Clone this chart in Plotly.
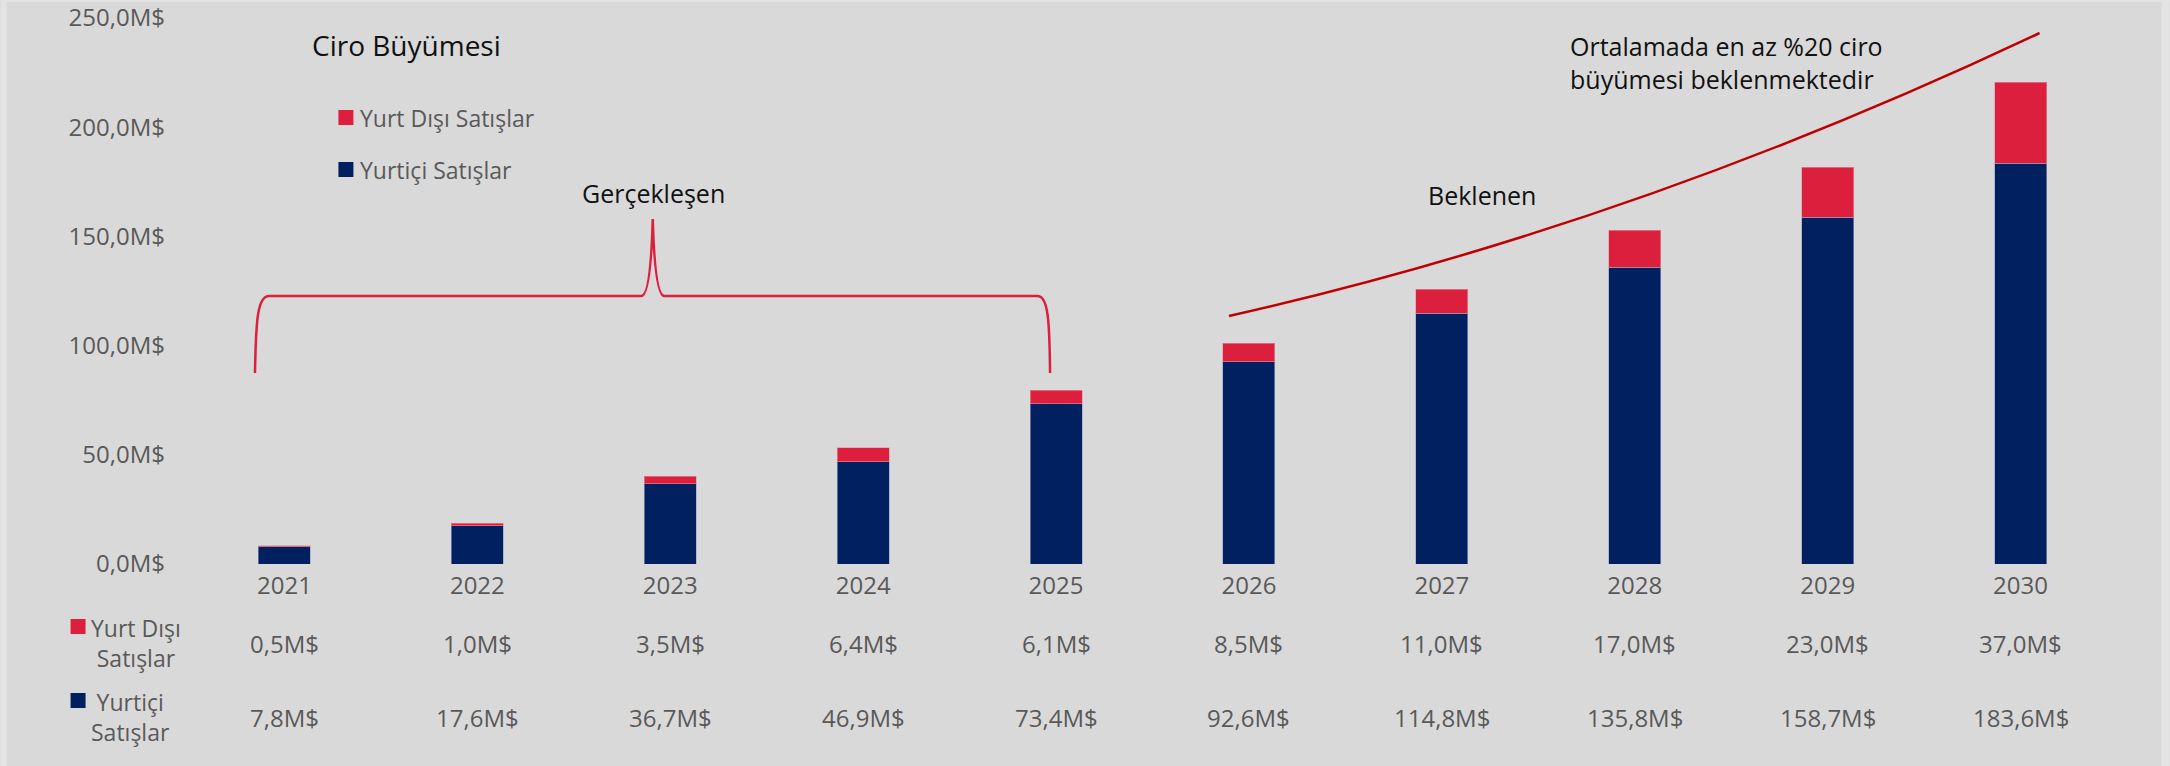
import plotly.graph_objects as go

# --- data -------------------------------------------------------------
years = ["2021", "2022", "2023", "2024", "2025", "2026", "2027", "2028", "2029", "2030"]
domestic = [7.8, 17.6, 36.7, 46.9, 73.4, 92.6, 114.8, 135.8, 158.7, 183.6]   # Yurtiçi Satışlar
export = [0.5, 1.0, 3.5, 6.4, 6.1, 8.5, 11.0, 17.0, 23.0, 37.0]              # Yurt Dışı Satışlar
y_ticks = [0, 50, 100, 150, 200, 250]
y_tick_labels = ["0,0M$", "50,0M$", "100,0M$", "150,0M$", "200,0M$", "250,0M$"]

NAVY = "#002060"
RED = "#DC1F3C"
CURVE_RED = "#C00000"
GREY = "#595959"
INK = "#111111"
FONT = "Open Sans"

W, H = 2170, 766
M_L, M_R, M_T, M_B = 187.5, 52.5, 18, 202
PLOT_W = W - M_L - M_R
PLOT_H = H - M_T - M_B
x_idx = list(range(len(years)))


def fmt(v):
    return f"{v:.1f}".replace(".", ",") + "M$"


# pixel -> paper helpers for decorations placed around the plot area
def px(x):
    return (x - M_L) / PLOT_W


def py(y):
    return (H - M_B - y) / PLOT_H


# pixel -> data helpers (x axis: category index, y axis: M$)
def dx(x):
    return (x - M_L) / PLOT_W * 10 - 0.5


def dy(y):
    return (H - M_B - y) / PLOT_H * 250


fig = go.Figure()
fig.add_trace(go.Bar(
    x=x_idx, y=domestic, name="Yurtiçi Satışlar", width=0.27,
    marker=dict(color=NAVY, line=dict(color="rgba(150,160,195,0.6)", width=1)),
    hoverinfo="skip",
))
fig.add_trace(go.Bar(
    x=x_idx, y=export, name="Yurt Dışı Satışlar", width=0.27,
    marker=dict(color=RED, line=dict(color="rgba(225,150,165,0.6)", width=1)),
    hoverinfo="skip",
))

shapes = []
# thin lighter frame around the chart panel
for (x0, x1) in [(0, 6), (2162, 2170)]:
    shapes.append(dict(type="rect", xref="paper", yref="paper", layer="below",
                       x0=px(x0), x1=px(x1), y0=py(766), y1=py(0),
                       fillcolor="#E4E4E4", line=dict(width=0)))
shapes.append(dict(type="rect", xref="paper", yref="paper", layer="below",
                   x0=px(0), x1=px(2170), y0=py(2), y1=py(0),
                   fillcolor="#E4E4E4", line=dict(width=0)))

# brace over the realised years
brace = (
    f"M {dx(254.5)},{dy(373)} C {dx(255.5)},{dy(320)} {dx(257)},{dy(297)} {dx(268)},{dy(296)} "
    f"L {dx(641)},{dy(296)} C {dx(647)},{dy(296)} {dx(651)},{dy(272)} {dx(652.5)},{dy(219)} "
    f"C {dx(654)},{dy(272)} {dx(658)},{dy(296)} {dx(664)},{dy(296)} "
    f"L {dx(1038)},{dy(296)} C {dx(1048)},{dy(297)} {dx(1049.5)},{dy(320)} {dx(1050)},{dy(373)}"
)
shapes.append(dict(type="path", xref="x", yref="y", path=brace,
                   line=dict(color=RED, width=2.5)))

# growth curve over the expected years
curve = (
    f"M {dx(1229)},{dy(316)} Q {dx(1634)},{dy(225)} {dx(2040)},{dy(33)}"
)
shapes.append(dict(type="path", xref="x", yref="y", path=curve,
                   line=dict(color=CURVE_RED, width=2.5)))

# legend keys (top) and table row keys (bottom)
for (x0, y0, c) in [(338, 110, RED), (338, 162, NAVY), (70, 619, RED), (70, 693, NAVY)]:
    shapes.append(dict(type="rect", xref="paper", yref="paper",
                       x0=px(x0), x1=px(x0 + 15), y0=py(y0 + 15), y1=py(y0),
                       fillcolor=c, line=dict(width=0)))

ann = []


def text(x, y, s, size, color, xanchor="center"):
    ann.append(dict(x=px(x), y=py(y), xref="paper", yref="paper", text=s,
                    showarrow=False, xanchor=xanchor, yanchor="middle",
                    font=dict(family=FONT, size=size, color=color)))


text(310, 45, "Ciro Büyümesi", 28, INK, "left")
text(358, 118, "Yurt Dışı Satışlar", 23, GREY, "left")
text(358, 170, "Yurtiçi Satışlar", 23, GREY, "left")
text(653, 193, "Gerçekleşen", 25, INK)
text(1482, 195, "Beklenen", 25, INK)
ann.append(dict(x=px(1727), y=py(62), xref="paper", yref="paper",
                text="Ortalamada en az %20 ciro<br>büyümesi beklenmektedir",
                showarrow=False, xanchor="center", yanchor="middle", align="left",
                font=dict(family=FONT, size=25, color=INK)))

# data table below the axis
ann.append(dict(x=px(135), y=py(643), xref="paper", yref="paper",
                text="Yurt Dışı<br>Satışlar", showarrow=False, align="center",
                xanchor="center", yanchor="middle",
                font=dict(family=FONT, size=23, color=GREY)))
ann.append(dict(x=px(130), y=py(717), xref="paper", yref="paper",
                text="Yurtiçi<br>Satışlar", showarrow=False, align="center",
                xanchor="center", yanchor="middle",
                font=dict(family=FONT, size=23, color=GREY)))
for i in x_idx:
    ann.append(dict(x=i, y=py(643), xref="x", yref="paper", text=fmt(export[i]),
                    showarrow=False, xanchor="center", yanchor="middle",
                    font=dict(family=FONT, size=24, color=GREY)))
    ann.append(dict(x=i, y=py(718), xref="x", yref="paper", text=fmt(domestic[i]),
                    showarrow=False, xanchor="center", yanchor="middle",
                    font=dict(family=FONT, size=24, color=GREY)))

fig.update_layout(
    width=W, height=H,
    margin=dict(l=M_L, r=M_R, t=M_T, b=M_B, pad=0, autoexpand=False),
    paper_bgcolor="#D9D9D9",
    plot_bgcolor="rgba(0,0,0,0)",
    barmode="stack",
    bargap=0.73,
    showlegend=False,
    shapes=shapes,
    annotations=ann,
    font=dict(family=FONT, color=GREY),
    xaxis=dict(range=[-0.5, 9.5], tickmode="array", tickvals=x_idx, ticktext=years,
               showgrid=False, zeroline=False, showline=False, ticks="",
               tickfont=dict(family=FONT, size=24, color=GREY), automargin=False,
               ticklabelstandoff=5, fixedrange=True),
    yaxis=dict(range=[0, 250], tickmode="array", tickvals=y_ticks, ticktext=y_tick_labels,
               showgrid=False, zeroline=False, showline=False, ticks="",
               tickfont=dict(family=FONT, size=24, color=GREY), automargin=False,
               ticklabelstandoff=22, fixedrange=True),
)

fig.write_html("out.html", config={"displayModeBar": False})
